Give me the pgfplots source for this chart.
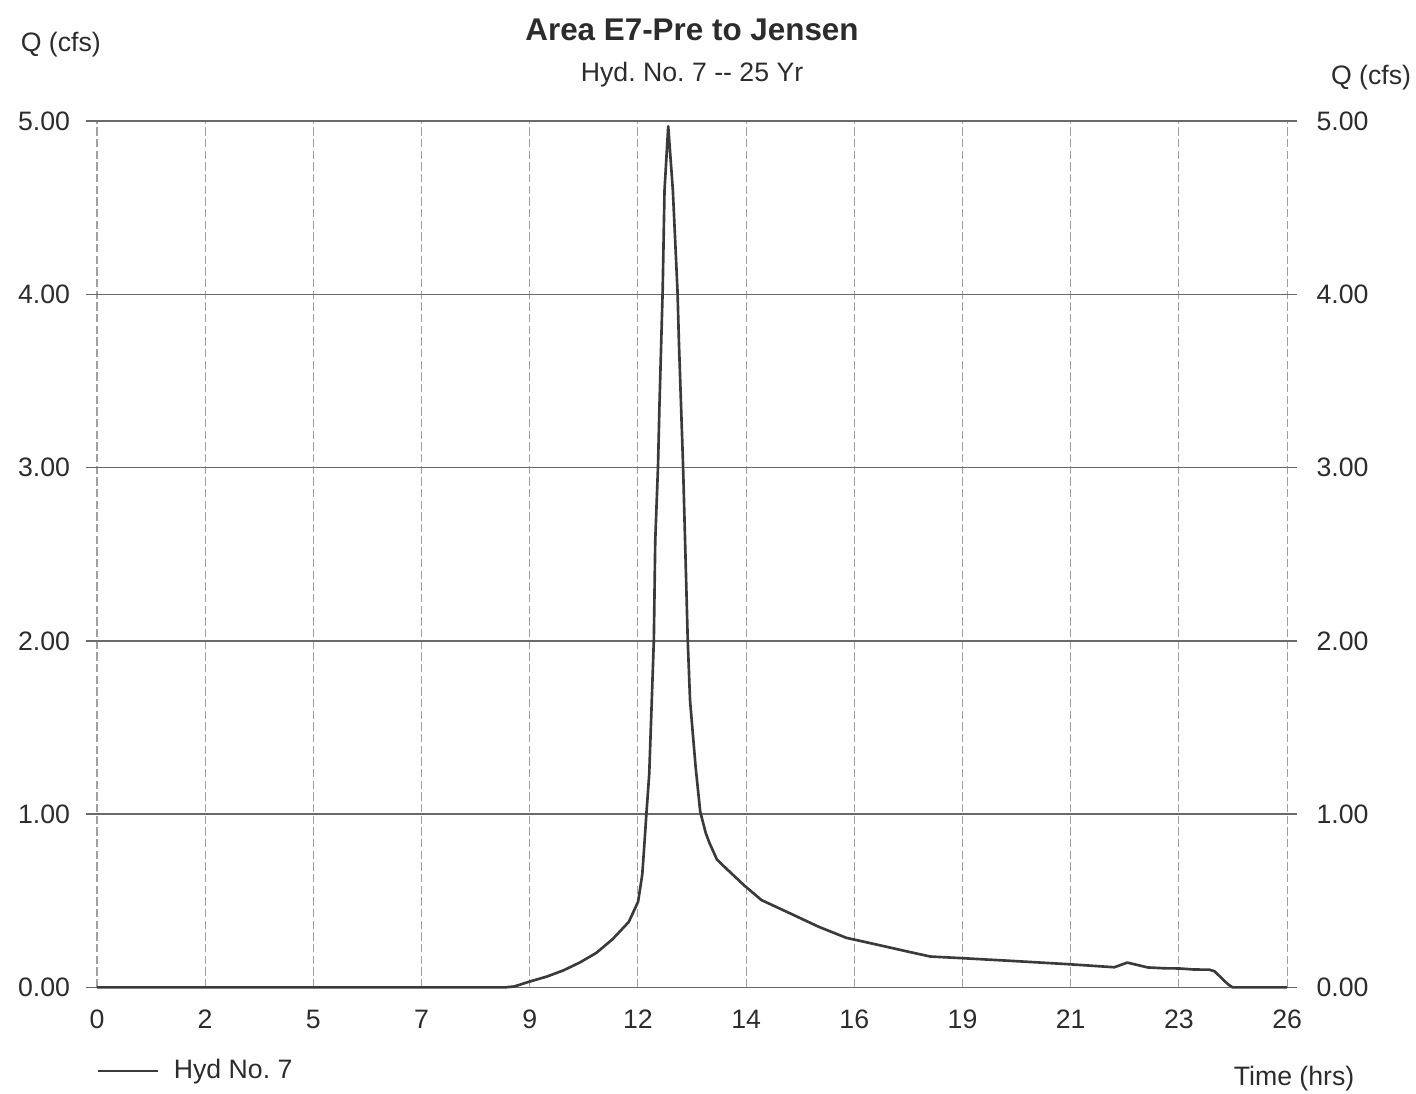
\documentclass[border=0pt]{standalone}
\usepackage{fontspec}
\setmainfont{Liberation Sans}
\usepackage{pgfplots}
\usepackage{pgfplotstable}
\pgfplotsset{compat=1.18}
\frenchspacing
\definecolor{gridh}{HTML}{6A6A6A}
\definecolor{gridv}{HTML}{A0A0A0}
\definecolor{curvec}{HTML}{3A3A3A}
\definecolor{txt}{HTML}{2C2C2C}

\pgfplotstableread{
t q
0 0
8.8 0.0
9.0 0.005
9.35 0.035
9.70 0.062
10.06 0.098
10.41 0.143
10.77 0.199
11.12 0.278
11.47 0.378
11.67 0.494
11.76 0.651
11.81 0.842
11.85 1.006
11.91 1.23
11.96 1.614
12.01 2.009
12.04 2.578
12.10 3.01
12.13 3.35
12.17 3.734
12.20 4.023
12.24 4.60
12.32 4.97
12.42 4.60
12.52 4.02
12.55 3.73
12.64 3.01
12.74 2.01
12.79 1.658
12.91 1.274
13.01 1.014
13.13 0.89
13.21 0.833
13.37 0.738
13.44 0.719
13.96 0.588
14.33 0.504
15.06 0.413
15.57 0.349
16.16 0.286
16.88 0.243
17.46 0.208
17.97 0.178
18.62 0.169
19.77 0.152
20.93 0.134
21.94 0.116
22.22 0.143
22.66 0.115
23.02 0.110
23.34 0.109
23.66 0.103
23.99 0.102
24.10 0.093
24.39 0.018
24.49 0.0
25.6667 0.0
}\hyd

\begin{document}
\begin{tikzpicture}
\begin{axis}[
  name=ax,
  scale only axis, width=428.4pt, height=311.8pt,
  xmin=0, xmax=25.6667, ymin=0, ymax=5,
  clip=false,
  axis line style={draw=none},
  xtick={0,2.33333,4.66667,7,9.33333,11.66667,14,16.33333,18.66667,21,23.33333,25.66667},
  xticklabels={0,2,5,7,9,12,14,16,19,21,23,26},
  ytick={0,1,2,3,4,5},
  major tick length=0pt,
  xmajorgrids,
  x grid style={gridv, dash pattern=on 3pt off 1.2pt, line width=0.4pt},
  tick label style={font=\fontsize{9.6}{11}\selectfont, text=txt},
  /pgf/number format/assume math mode=true,
  yticklabel style={/pgf/number format/fixed, /pgf/number format/fixed zerofill, /pgf/number format/precision=2, anchor=east, inner sep=0pt, xshift=-9.5pt},
  xticklabel style={anchor=north, inner sep=0pt, yshift=-7.9pt},
  legend style={at={(0,-0.097)}, anchor=west, draw=none, fill=none, inner sep=0pt, outer sep=0pt,
    font=\fontsize{9.6}{11}\selectfont, text=txt, nodes={inner sep=0pt, anchor=west}},
  legend image code/.code={\draw[curvec, line width=0.7pt] (0pt,0pt) -- (21.7pt,0pt);},
]
\pgfplotsinvokeforeach{0,1,2,3,4,5}{
  \draw[gridh, line width=0.5pt] ([xshift=-3.9pt]axis cs:0,#1) -- ([xshift=3.6pt]axis cs:25.6667,#1);
}
\addplot[curvec, line width=0.95pt, line join=round] table[x=t, y=q] {\hyd};
\addlegendentry{\hspace{5.3pt}Hyd No. 7}
\end{axis}
\begin{axis}[
  scale only axis, width=428.4pt, height=311.8pt,
  xmin=0, xmax=25.6667, ymin=0, ymax=5,
  hide x axis,
  axis y line*=right,
  y axis line style={draw=none},
  ytick={0,1,2,3,4,5},
  major tick length=0pt,
  ytick style={draw=none},
  tick label style={font=\fontsize{9.6}{11}\selectfont, text=txt},
  /pgf/number format/assume math mode=true,
  yticklabel style={/pgf/number format/fixed, /pgf/number format/fixed zerofill, /pgf/number format/precision=2, anchor=west, inner sep=0pt, xshift=10.4pt},
]
\addplot[draw=none] coordinates {(0,0)};
\end{axis}
\node[font=\bfseries\fontsize{11.3}{13}\selectfont, text=txt] at ([yshift=32.8pt]ax.north) {Area E7-Pre to Jensen};
\node[font=\fontsize{9.6}{11}\selectfont, text=txt] at ([yshift=16.6pt]ax.north) {Hyd. No. 7 -{}- 25 Yr};
\node[font=\fontsize{9.6}{11}\selectfont, text=txt] at ([xshift=-13pt, yshift=27.4pt]ax.north west) {Q (cfs)};
\node[font=\fontsize{9.6}{11}\selectfont, text=txt] at ([xshift=30.2pt, yshift=15.5pt]ax.north east) {Q (cfs)};
\node[font=\fontsize{9.6}{11}\selectfont, text=txt] at ([xshift=2.5pt, yshift=-32.8pt]ax.south east) {Time (hrs)};
\pgfresetboundingbox
\path[use as bounding box] ([xshift=-34.9pt, yshift=-38.2pt]ax.south west) rectangle ([xshift=46.4pt, yshift=43.6pt]ax.north east);
\end{tikzpicture}
\end{document}
